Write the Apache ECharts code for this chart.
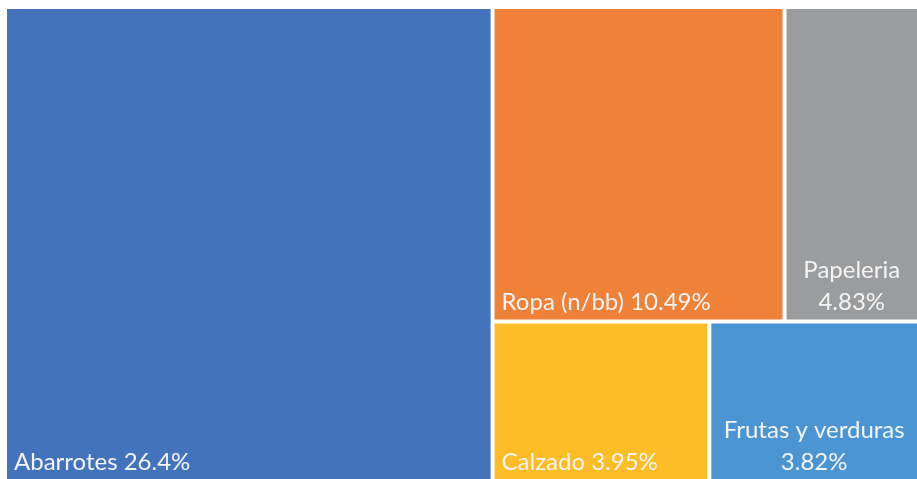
<!DOCTYPE html>
<html>
<head>
<meta charset="utf-8">
<script src="https://cdn.jsdelivr.net/npm/echarts@6/dist/echarts.min.js"></script>
<style>
  html, body { margin: 0; padding: 0; background: #fff; }
  #main { width: 917px; height: 479px; }
</style>
</head>
<body>
<div id="main"></div>
<script>
// categorias y porcentajes
const names = ['Abarrotes', 'Ropa (n/bb)', 'Papeleria', 'Calzado', 'Frutas y verduras'];
const values = [26.4, 10.49, 4.83, 3.95, 3.82];
const colors = ['#4373ba', '#f08139', '#9b9c9e', '#fdbd26', '#4b95d2'];
// las etiquetas en dos lineas van centradas
const twoLines = [false, false, true, false, true];

function leaf(i) {
    return {
        name: names[i],
        value: values[i],
        itemStyle: { color: colors[i] },
        label: twoLines[i]
            ? { position: 'insideBottom', align: 'center', formatter: '{b}\n{c}%' }
            : { position: 'insideBottomLeft', formatter: '{b} {c}%' }
    };
}
function group(name, idx) {
    let kids = idx.map(leaf);
    return { name: name, value: kids.reduce((s, k) => s + k.value, 0), children: kids };
}

// mismo acomodo que la imagen: una columna grande y dos filas a la derecha
let right = [group('fila1', [1, 2]), group('fila2', [3, 4])];
let treeData = [
    leaf(0),
    { name: 'resto', value: right.reduce((s, k) => s + k.value, 0), children: right }
];

let chart = echarts.init(document.getElementById('main'));
chart.setOption({
    animation: false,
    series: [{
        type: 'treemap',
        left: 7, top: 9, right: 0, bottom: 0,
        roam: false,
        nodeClick: false,
        squareRatio: 1,
        breadcrumb: { show: false },
        label: {
            show: true,
            color: '#f4f4f4',
            fontFamily: 'Lato',
            fontSize: 24,
            lineHeight: 32,
            padding: [0, 7, 1, 7]
        },
        upperLabel: { show: false },
        itemStyle: { borderWidth: 0, gapWidth: 4, borderColor: '#fff' },
        levels: [
            { itemStyle: { borderWidth: 0, gapWidth: 4 } },
            { itemStyle: { borderWidth: 0, gapWidth: 4 } },
            { itemStyle: { borderWidth: 0, gapWidth: 4 } }
        ],
        data: treeData
    }]
});
</script>
</body>
</html>
